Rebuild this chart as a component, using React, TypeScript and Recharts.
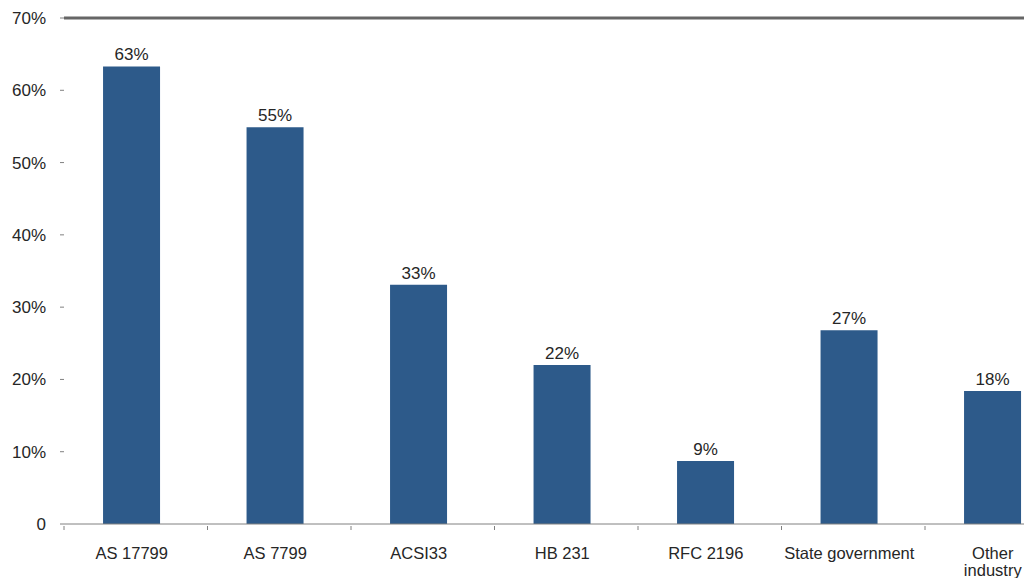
import React from "react";
import { BarChart, Bar, XAxis, YAxis, LabelList, ReferenceLine } from "recharts";

const categories = ["AS 17799", "AS 7799", "ACSI33", "HB 231", "RFC 2196", "State government", "Other industry"];
const shares = [63.3, 54.9, 33.1, 22.0, 8.7, 26.8, 18.4];
const yTicks = [0, 10, 20, 30, 40, 50, 60, 70];

const data = categories.map((name, i) => ({ name, value: shares[i] }));

const FONT = "'Liberation Sans', Arial, sans-serif";
const TEXT = "#262626";
const SHIFT = 4;

const XTick = (props: any) => {
  const { x, y, payload, width } = props;
  const bw = (width || 0) / categories.length;
  const label: string = payload.value;
  const lines = label === "Other industry" ? label.split(" ") : [label];
  const idx = categories.indexOf(label);
  const axisY = y - 6;
  return (
    <g>
      <line x1={x - bw / 2 + SHIFT} x2={x - bw / 2 + SHIFT} y1={axisY} y2={axisY + 4} stroke="#808080" strokeWidth={1} />
      {idx === categories.length - 1 && (
        <line x1={x + bw / 2 + SHIFT} x2={x + bw / 2 + SHIFT} y1={axisY} y2={axisY + 4} stroke="#808080" strokeWidth={1} />
      )}
      <text x={x} y={axisY + 33} textAnchor="middle" fill={TEXT} fontSize={16.5} fontFamily={FONT}>
        {lines.map((l, i) => (
          <tspan key={i} x={x} dy={i === 0 ? 0 : 16.5}>
            {l}
          </tspan>
        ))}
      </text>
    </g>
  );
};

export default function App() {
  return (
    <div style={{ width: 1024, height: 578, overflow: "hidden", background: "#ffffff" }}>
      <style>{`html,body{margin:0;padding:0;}`}</style>
      <BarChart
        width={1080}
        height={578}
        data={data}
        margin={{ top: 18, right: 11.5, bottom: 0, left: 0 }}
        barCategoryGap="30%"
      >
        <XAxis
          dataKey="name"
          axisLine={{ stroke: "#808080", strokeWidth: 1 }}
          tickLine={false}
          tick={<XTick />}
          height={54}
          interval={0}
          padding={{ left: -SHIFT, right: SHIFT }}
        />
        <YAxis
          domain={[0, 70]}
          ticks={yTicks}
          width={64}
          axisLine={false}
          tickLine={{ stroke: "#808080" }}
          tickSize={4}
          tickMargin={14}
          tickFormatter={(v: number) => (v === 0 ? "0" : `${v}%`)}
          tick={{ fill: TEXT, fontSize: 17, fontFamily: FONT }}
        />
        <ReferenceLine y={70} stroke="#666666" strokeWidth={3} />
        <Bar dataKey="value" fill="#2D5A8A" isAnimationActive={false}>
          <LabelList
            dataKey="value"
            position="top"
            offset={6}
            formatter={(v: any) => `${Math.round(Number(v))}%`}
            style={{ fill: TEXT, fontSize: 17, fontFamily: FONT }}
          />
        </Bar>
      </BarChart>
    </div>
  );
}
